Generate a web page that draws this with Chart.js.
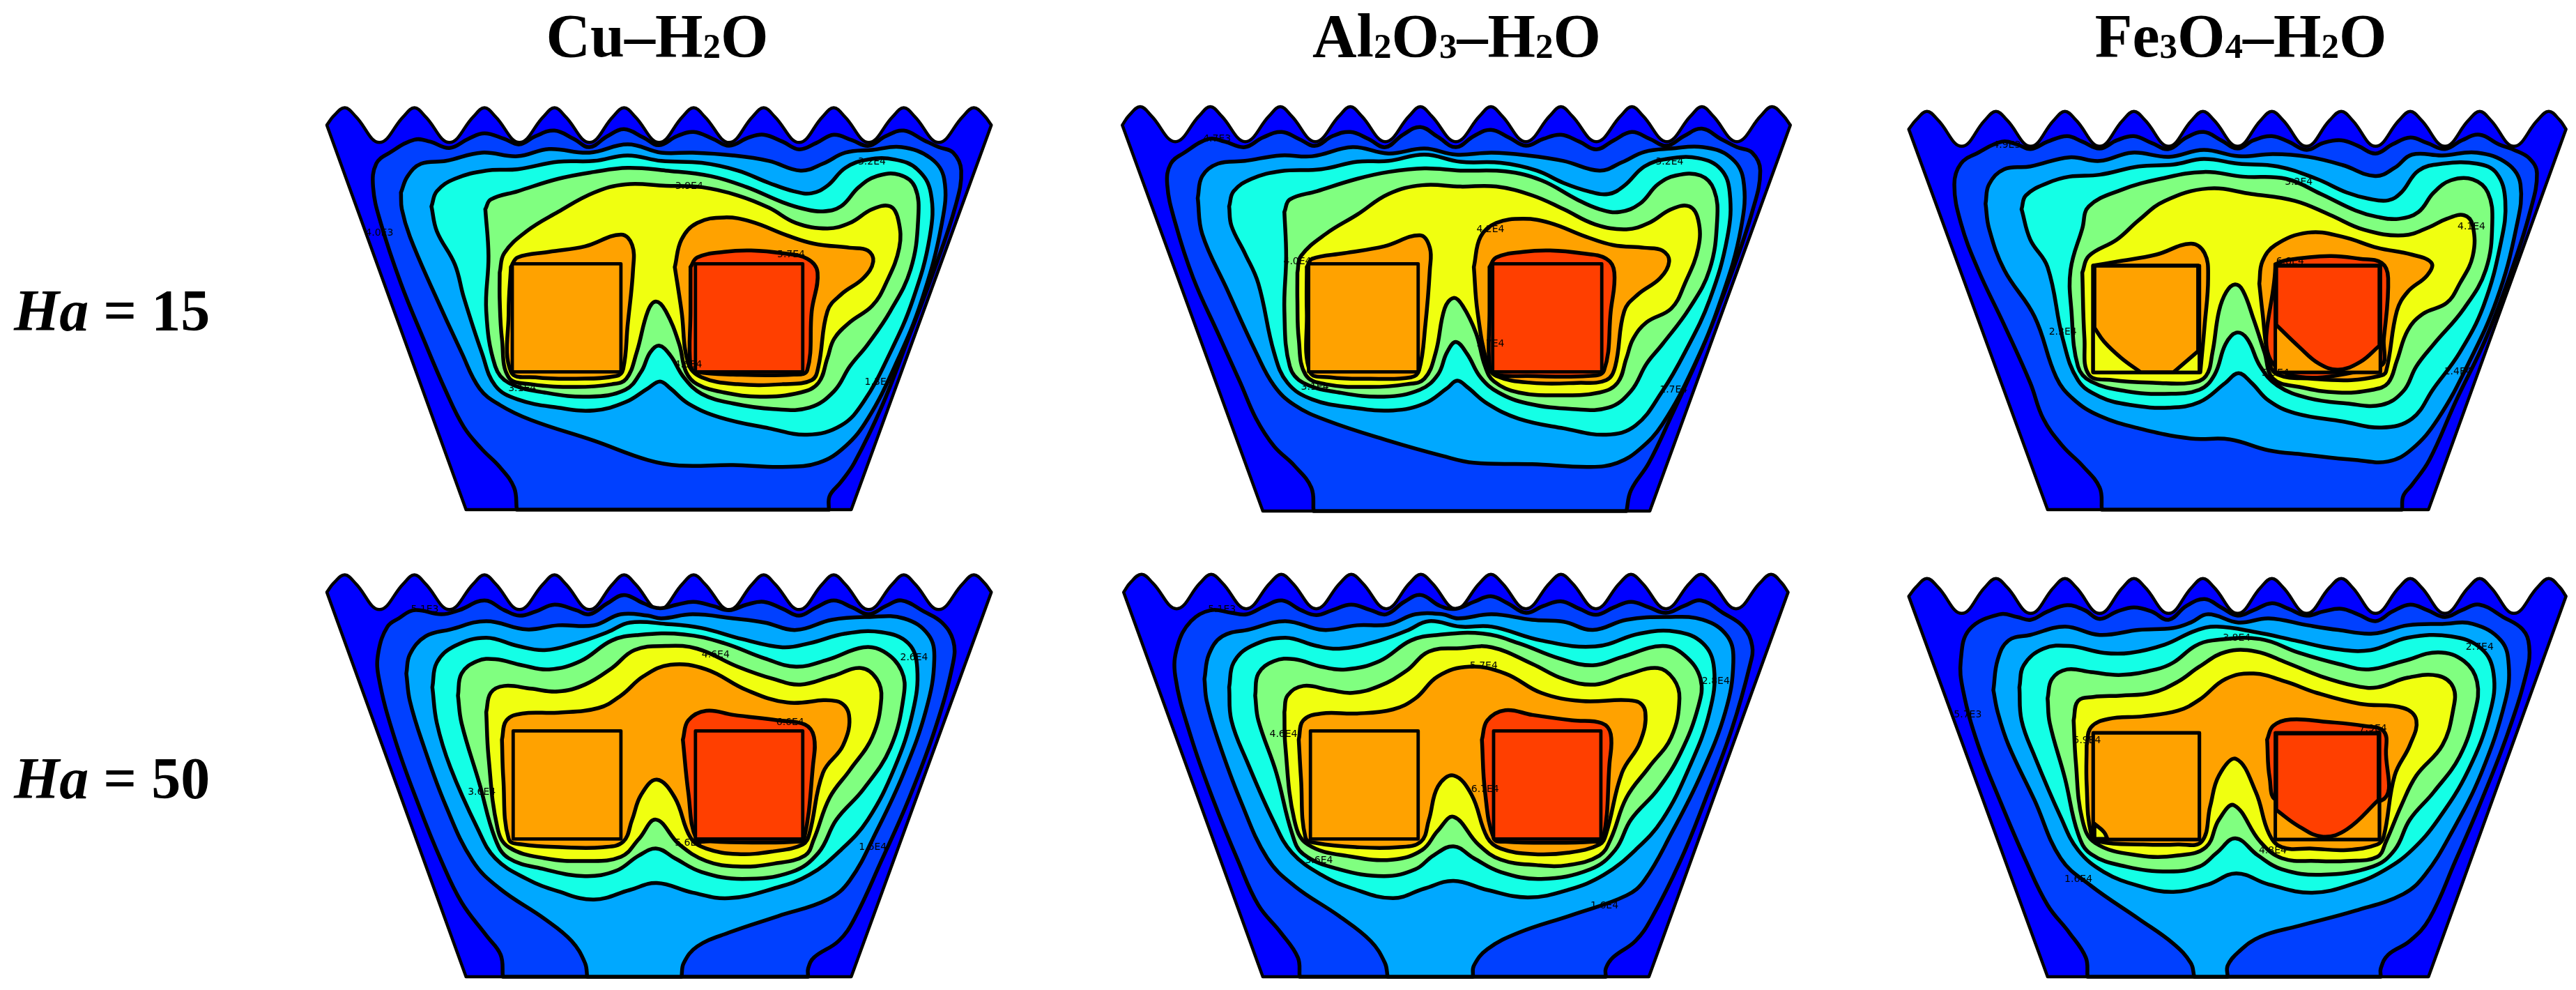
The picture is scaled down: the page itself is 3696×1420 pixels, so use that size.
<!DOCTYPE html>
<html><head><meta charset="utf-8">
<script src="https://cdn.jsdelivr.net/npm/chart.js@4"></script>
<style>
html,body{margin:0;padding:0;background:#fff;width:3696px;height:1420px;overflow:hidden}
canvas{position:absolute}
.t{position:absolute;font-family:"Liberation Serif",serif;font-weight:bold;color:#000;white-space:nowrap;line-height:1;transform-origin:0 0}
.t sub{font-size:58%;vertical-align:-0.04em;line-height:0}
</style></head><body>
<script>
// contour colours, lowest to highest level
const levelColors=['#0000ff','#0040ff','#00a8ff','#14ffe6','#80ff80','#f0ff10','#ffa200','#ff3f00'];
const columnTitles=['Cu–H<sub>2</sub>O','Al<sub>2</sub>O<sub>3</sub>–H<sub>2</sub>O','Fe<sub>3</sub>O<sub>4</sub>–H<sub>2</sub>O'];
const rowTitles=['<i>Ha</i> = 15','<i>Ha</i> = 50'];

// ---- Cu-H2O, Ha=15 ----
const a0=[[355,1520],[355,1520],[45,125],[45,125],[60,92],[85,62],[110,95],[162,188],[215,95],[240,62],[265,95],[318,188],[371,95],[396,62],[421,95],[474,188],[527,95],[552,62],[577,95],[630,188],[682,95],[707,62],[732,95],[785,188],[837,95],[862,62],[887,95],[941,188],[993,95],[1018,62],[1043,95],[1097,188],[1149,95],[1174,62],[1199,95],[1252,188],[1305,95],[1330,62],[1355,95],[1408,188],[1461,95],[1486,62],[1510,92],[1525,125],[1525,125],[1213,1520],[1213,1520]];
const a1=[[468,1520],[468,1520],[462,1440],[430,1365],[390,1300],[350,1220],[310,1090],[260,900],[210,700],[165,480],[148,350],[155,265],[185,225],[240,178],[275,185],[318,208],[360,175],[396,155],[440,175],[474,195],[510,165],[552,145],[595,175],[630,205],[670,165],[707,140],[750,170],[785,198],[825,165],[862,150],[905,175],[941,200],[985,170],[1018,160],[1060,185],[1097,213],[1135,190],[1174,160],[1215,180],[1252,200],[1290,165],[1330,145],[1375,180],[1408,205],[1440,225],[1458,290],[1445,420],[1400,640],[1340,900],[1280,1150],[1220,1350],[1190,1420],[1165,1470],[1163,1520],[1163,1520]];
const a2=[[210,370],[225,310],[255,265],[310,255],[390,225],[470,238],[540,212],[630,225],[715,195],[790,225],[860,225],[950,235],[1030,255],[1100,290],[1150,265],[1200,225],[1260,215],[1325,205],[1390,245],[1420,320],[1415,480],[1370,760],[1310,1000],[1250,1190],[1200,1290],[1140,1350],[1060,1365],[950,1358],[830,1360],[760,1340],[640,1270],[500,1195],[430,1140],[385,1080],[345,950],[280,720],[230,530],[212,430]];
const a3=[[278,420],[290,365],[330,320],[400,290],[470,285],[560,258],[640,255],[715,235],[790,255],[880,262],[960,290],[1030,335],[1085,365],[1125,372],[1160,345],[1200,280],[1250,250],[1310,250],[1360,285],[1390,370],[1388,530],[1350,760],[1300,950],[1240,1130],[1190,1215],[1115,1248],[1030,1225],[920,1185],[850,1135],[810,1080],[787,1055],[760,1080],[710,1130],[640,1160],[560,1150],[470,1120],[420,1070],[390,950],[350,750],[330,630],[290,510]];
const a4=[[398,430],[410,395],[470,365],[560,320],[640,295],[715,280],[800,290],[900,310],[980,350],[1060,405],[1110,430],[1150,438],[1190,420],[1230,350],[1270,310],[1320,305],[1355,350],[1362,470],[1345,650],[1300,800],[1250,920],[1210,1000],[1175,1090],[1120,1150],[1040,1155],[950,1135],[880,1100],[840,1040],[810,960],[785,925],[765,950],[745,1020],[710,1085],[630,1110],[530,1095],[450,1060],[420,1000],[400,800],[405,600]];
const a5=[[430,660],[440,590],[490,510],[560,440],[640,370],[710,340],[800,345],[880,350],[960,380],[1030,425],[1090,480],[1160,500],[1210,480],[1260,430],[1300,420],[1318,470],[1320,570],[1290,700],[1260,780],[1210,840],[1175,900],[1160,970],[1140,1060],[1100,1095],[1010,1110],[930,1095],[870,1065],[845,1020],[830,920],[800,800],[778,765],[760,800],[735,950],[712,1045],[680,1065],[600,1075],[500,1065],[450,1040],[435,900],[430,760]];
const a6L=[[455,640],[470,605],[540,585],[620,565],[700,522],[725,560],[727,650],[715,850],[705,1010],[690,1035],[600,1045],[510,1040],[455,1020],[450,800]];
const a6R=[[820,640],[835,540],[870,480],[930,460],[990,475],[1070,525],[1130,555],[1210,570],[1250,580],[1262,620],[1240,680],[1190,740],[1160,800],[1140,1000],[1125,1050],[1060,1065],[960,1065],[880,1040],[850,990],[835,800]];
const a7=[[855,640],[870,605],[930,585],[990,580],[1060,590],[1115,610],[1138,660],[1125,800],[1115,1015],[1085,1030],[950,1030],[870,1020],[855,1000],[855,800]];
const aRectL=[[458,628],[700,628],[700,1020],[458,1020]];
const aRectR=[[866,628],[1105,628],[1105,1020],[866,1020]];
const aLabels=[['4.0E3',162,517],['3.2E4',1259,260],['3.9E4',852,348],['5.7E4',1079,595],['4.6E4',850,995],['3.1E4',480,1080],['1.3E4',1274,1058]];

// ---- Al2O3-H2O, Ha=15 ----
const b0=[[360,1525],[360,1525],[47,125],[47,125],[62,90],[87,58],[112,92],[165,185],[218,92],[243,58],[268,92],[321,185],[374,92],[399,58],[424,92],[477,185],[530,92],[555,58],[580,92],[633,185],[686,92],[711,58],[736,92],[790,185],[843,92],[868,58],[893,92],[946,185],[999,92],[1024,58],[1049,92],[1103,185],[1157,92],[1182,58],[1207,92],[1260,185],[1313,92],[1338,58],[1363,92],[1416,185],[1469,92],[1494,58],[1519,90],[1535,125],[1535,125],[1222,1525],[1222,1525]];
const b1=[[473,1525],[473,1525],[468,1440],[430,1360],[385,1290],[345,1190],[310,1060],[260,880],[205,680],[165,480],[147,340],[155,265],[185,225],[240,175],[275,185],[320,205],[360,170],[402,150],[440,175],[477,200],[515,165],[555,150],[595,175],[633,205],[672,160],[711,132],[750,168],[790,205],[830,165],[868,142],[908,170],[946,200],[985,175],[1024,160],[1065,185],[1103,213],[1142,180],[1182,150],[1222,175],[1260,200],[1298,165],[1338,138],[1380,175],[1416,205],[1450,225],[1468,290],[1450,440],[1400,680],[1340,930],[1270,1180],[1220,1350],[1180,1450],[1170,1525],[1170,1525]];
const b2=[[215,390],[225,310],[260,265],[320,255],[400,235],[470,238],[560,205],[640,228],[720,210],[790,232],[870,225],[950,235],[1030,255],[1110,290],[1160,260],[1210,222],[1270,210],[1340,205],[1400,240],[1430,320],[1425,500],[1380,760],[1320,1000],[1250,1210],[1200,1300],[1150,1350],[1090,1365],[960,1355],[830,1350],[760,1325],[640,1270],[500,1195],[430,1140],[385,1070],[345,950],[280,720],[225,520]];
const b3=[[285,420],[295,365],[335,320],[400,292],[490,285],[570,258],[640,255],[720,232],[800,258],[890,262],[970,290],[1030,335],[1085,365],[1130,375],[1165,345],[1210,275],[1260,248],[1330,245],[1380,285],[1400,370],[1395,530],[1355,760],[1300,950],[1250,1090],[1190,1215],[1125,1248],[1030,1225],[930,1190],[860,1135],[815,1075],[793,1052],[770,1080],[720,1135],[650,1160],[560,1150],[470,1120],[415,1060],[385,950],[350,700],[320,590],[290,490]];
const b4=[[408,440],[420,395],[480,365],[570,320],[640,295],[720,282],[800,290],[900,293],[980,325],[1060,395],[1110,430],[1155,440],[1200,410],[1240,340],[1280,308],[1335,308],[1365,360],[1372,470],[1355,650],[1310,790],[1250,920],[1215,990],[1180,1090],[1130,1150],[1050,1155],[950,1135],[885,1095],[845,1040],[815,955],[790,912],[770,950],[750,1030],[710,1085],[630,1110],[530,1095],[450,1060],[420,1000],[408,800],[412,600]];
const b5=[[437,660],[445,600],[500,520],[570,450],[640,375],[715,343],[800,348],[880,348],[960,380],[1030,430],[1100,485],[1170,503],[1220,480],[1270,430],[1310,420],[1330,470],[1330,570],[1300,700],[1270,790],[1215,840],[1185,900],[1170,970],[1150,1060],[1110,1095],[1020,1105],[930,1095],[875,1055],[855,1000],[835,880],[805,780],[785,752],[765,790],[745,950],[720,1045],[680,1065],[600,1075],[500,1065],[455,1030],[440,900],[437,760]];
const b6L=[[458,640],[470,610],[540,590],[630,565],[710,525],[732,570],[732,650],[722,850],[708,1015],[690,1040],[600,1045],[510,1040],[465,1020],[458,800]];
const b6R=[[830,640],[845,530],[880,480],[940,465],[1000,480],[1080,530],[1140,560],[1210,570],[1250,580],[1265,620],[1245,680],[1195,740],[1165,800],[1145,1000],[1125,1050],[1060,1060],[960,1060],[880,1035],[860,990],[838,800]];
const b7=[[865,640],[880,605],[940,585],[1000,580],[1070,590],[1125,610],[1143,660],[1135,800],[1120,1015],[1085,1035],[950,1035],[880,1030],[865,1000],[865,800]];
const bRectL=[[462,628],[706,628],[706,1020],[462,1020]];
const bRectR=[[872,628],[1115,628],[1115,1020],[872,1020]];
const bLabels=[['4.7E3',258,175],['3.2E4',1266,258],['4.2E4',867,505],['4.0E4',437,620],['5.7E4',867,918],['3.1E4',476,1075],['1.7E4',1275,1085]];

// ---- Fe3O4-H2O, Ha=15 ----
const c0=[[350,1520],[350,1520],[30,140],[30,140],[47,106],[72,75],[98,108],[152,202],[205,108],[231,75],[257,108],[311,202],[364,108],[390,75],[416,108],[470,202],[523,108],[549,75],[575,108],[629,202],[682,108],[708,75],[734,108],[788,202],[841,108],[867,75],[893,108],[947,202],[1000,108],[1027,75],[1053,108],[1106,202],[1160,108],[1186,75],[1212,108],[1266,202],[1320,108],[1346,75],[1372,108],[1425,202],[1479,108],[1505,75],[1530,106],[1545,140],[1545,140],[1228,1520],[1228,1520]];
const c1=[[475,1520],[475,1520],[470,1440],[430,1360],[385,1290],[340,1190],[310,1060],[250,850],[190,650],[150,480],[135,340],[150,265],[190,225],[245,185],[280,195],[311,212],[350,185],[395,165],[430,185],[470,210],[510,180],[549,165],[590,190],[629,212],[670,170],[710,150],[750,180],[788,210],[825,180],[867,165],[905,185],[947,215],[985,190],[1027,180],[1065,200],[1106,228],[1145,195],[1186,170],[1225,190],[1266,212],[1305,180],[1346,160],[1390,195],[1425,215],[1460,245],[1478,300],[1462,440],[1420,650],[1360,900],[1290,1130],[1230,1340],[1190,1430],[1170,1470],[1167,1520],[1167,1520]];
const c2=[[207,410],[215,340],[250,285],[310,275],[400,242],[470,255],[545,225],[630,240],[710,215],[790,238],[870,230],[950,240],[1030,270],[1105,310],[1150,280],[1190,232],[1260,235],[1340,225],[1410,265],[1440,340],[1430,500],[1385,760],[1320,990],[1250,1190],[1190,1300],[1135,1345],[1060,1340],[940,1320],[860,1305],[770,1265],[680,1262],[560,1225],[470,1180],[410,1120],[370,1040],[320,820],[250,650],[215,500]];
const c3=[[290,430],[300,380],[350,335],[400,312],[470,305],[560,275],[640,268],[710,248],[790,265],[880,275],[970,320],[1040,370],[1090,392],[1135,398],[1165,370],[1205,290],[1260,265],[1340,265],[1385,300],[1405,400],[1395,550],[1355,780],[1300,950],[1240,1080],[1190,1190],[1120,1222],[1030,1200],[920,1170],[860,1125],[820,1060],[790,1025],[760,1060],[700,1130],[630,1150],[540,1140],[470,1110],[420,1050],[385,900],[350,640],[310,540]];
const c4=[[430,500],[445,420],[520,360],[610,320],[710,295],[800,312],[900,320],[980,375],[1060,435],[1110,458],[1160,465],[1205,440],[1240,370],[1280,325],[1330,322],[1365,370],[1375,480],[1360,650],[1310,790],[1240,920],[1200,1000],[1170,1090],[1120,1140],[1040,1135],[950,1115],[880,1070],[840,1000],[810,900],[785,878],[760,920],[735,1030],[700,1085],[620,1100],[530,1090],[450,1055],[420,1000],[405,800],[403,650]];
const c5=[[430,660],[445,600],[510,540],[560,470],[620,400],[720,355],[820,375],[920,400],[1000,450],[1080,505],[1170,525],[1230,495],[1270,465],[1310,452],[1330,490],[1330,600],[1300,700],[1270,770],[1215,810],[1180,870],[1155,980],[1135,1060],[1100,1085],[1020,1095],[930,1075],[870,1045],[850,950],[825,830],[800,725],[782,703],[762,730],[745,800],[730,950],[715,1035],[680,1060],[600,1060],[500,1050],[445,1030],[435,900]];
const c6L=[[455,635],[510,620],[600,595],[680,555],[712,590],[720,680],[712,850],[702,1022],[702,1022],[455,1022],[455,1022]];
const c6R=[[838,700],[845,620],[875,560],[950,515],[1030,530],[1110,570],[1190,595],[1235,625],[1225,670],[1180,730],[1155,800],[1130,1020],[1115,1035],[1050,1050],[960,1045],[880,1030],[860,980],[845,800]];
const c7=[[875,630],[900,615],[1000,600],[1070,610],[1120,625],[1135,680],[1125,900],[1115,1000],[875,1000]];
const cRectL=[[455,635],[700,635],[700,1022],[455,1022]];
const cRectR=[[875,635],[1117,635],[1117,1022],[875,1022]];
const cInnerL=[[458,635],[458,635],[458,860],[458,860],[480,910],[520,970],[565,1022],[565,1022],[640,1022],[640,1022],[697,945],[697,945],[697,635],[697,635]];
const cInnerR=[[877,635],[877,635],[877,850],[877,850],[930,930],[975,990],[1020,1012],[1070,985],[1115,925],[1115,925],[1115,635],[1115,635]];
const cLabels=[['4.9E3',256,197],['3.2E4',929,333],['4.1E4',1327,494],['6.8E4',909,620],['2.3E4',385,875],['5.5E4',875,1025],['1.4E4',1296,1020]];

// ---- Cu-H2O, Ha=50 ----
const d0=a0;
const d1=[[437,1520],[437,1520],[432,1440],[400,1370],[345,1250],[300,1100],[250,900],[195,650],[160,430],[160,340],[180,250],[205,220],[240,190],[300,205],[340,190],[396,155],[440,190],[474,210],[510,195],[552,170],[600,190],[630,205],[670,165],[707,135],[750,165],[785,183],[825,170],[862,160],[905,175],[941,190],[980,170],[1018,160],[1060,185],[1097,210],[1135,180],[1174,155],[1215,180],[1252,205],[1290,175],[1325,155],[1375,195],[1415,235],[1440,300],[1440,380],[1400,620],[1340,880],[1280,1100],[1220,1310],[1185,1390],[1130,1450],[1117,1490],[1117,1520],[1117,1520]];
const d2=[[222,420],[230,350],[265,285],[320,260],[400,230],[490,260],[560,245],[640,245],[700,205],[760,210],[790,220],[860,205],[950,220],[1020,235],[1090,262],[1170,225],[1250,215],[1330,220],[1385,280],[1398,370],[1380,550],[1330,780],[1270,990],[1210,1170],[1160,1240],[1050,1300],[940,1360],[870,1410],[840,1470],[835,1520],[835,1520],[625,1520],[625,1520],[620,1470],[590,1390],[530,1310],[430,1200],[370,1100],[310,900],[260,680],[230,520]];
const d3=[[280,470],[290,380],[330,320],[400,290],[470,320],[530,335],[600,310],[670,270],[720,235],[800,240],[880,255],[970,295],[1060,325],[1120,310],[1200,275],[1280,270],[1340,310],[1360,400],[1350,560],[1310,760],[1250,950],[1190,1060],[1120,1150],[1040,1200],[940,1235],[860,1215],[780,1180],[720,1205],[640,1240],[560,1210],[490,1165],[420,1090],[380,980],[320,760],[290,600]];
const d4=[[337,500],[345,420],[380,375],[420,368],[480,390],[540,405],[610,375],[680,300],[740,280],[840,278],[930,310],[1020,365],[1090,395],[1160,370],[1240,325],[1285,340],[1325,410],[1330,500],[1300,690],[1240,840],[1180,950],[1140,1070],[1080,1140],[970,1165],[880,1140],[820,1090],[780,1055],[740,1080],[690,1135],[620,1155],[530,1130],[450,1090],[420,1020],[385,820],[345,600]];
const d5=[[400,560],[410,490],[440,465],[500,475],[560,485],[620,460],[680,400],[730,335],[800,320],[870,330],[960,395],[1040,440],[1100,460],[1170,430],[1235,400],[1270,440],[1280,510],[1260,650],[1210,770],[1165,870],[1130,1020],[1110,1080],[1040,1110],[960,1120],[890,1100],[830,1040],[778,950],[740,1020],[700,1085],[620,1100],[530,1090],[450,1050],[425,980],[405,720]];
const d6=[[435,660],[445,590],[480,565],[560,562],[650,545],[700,500],[750,430],[810,388],[890,405],[980,480],[1070,525],[1180,520],[1208,570],[1195,680],[1150,780],[1120,1000],[1105,1040],[1040,1065],[960,1075],[890,1055],[855,1015],[820,870],[780,805],[745,860],[725,950],[705,1030],[660,1050],[570,1050],[480,1040],[450,1020],[438,800]];
const d7=[[838,660],[850,590],[890,555],[950,570],[1050,590],[1110,605],[1130,650],[1128,750],[1108,1020],[1090,1030],[1000,1033],[900,1029],[868,1020],[850,850]];
const dRectL=[[460,628],[700,628],[700,1020],[460,1020]];
const dRectR=[[866,628],[1105,628],[1105,1020],[866,1020]];
const dLabels=[['5.1E3',263,187],['4.6E4',911,352],['2.6E4',1353,362],['6.6E4',1077,597],['3.6E4',390,850],['1.6E4',1261,1050],['5.6E4',851,1035]];

// ---- Al2O3-H2O, Ha=50 ----
const e0=[[360,1520],[360,1520],[50,125],[50,125],[65,90],[90,60],[115,92],[168,185],[220,92],[245,60],[270,92],[323,185],[376,92],[401,60],[426,92],[479,185],[532,92],[557,60],[582,92],[635,185],[687,92],[712,60],[737,92],[790,185],[843,92],[868,60],[893,92],[946,185],[999,92],[1024,60],[1049,92],[1102,185],[1155,92],[1180,60],[1205,92],[1258,185],[1311,92],[1336,60],[1361,92],[1414,185],[1467,92],[1492,60],[1515,90],[1530,125],[1530,125],[1220,1520],[1220,1520]];
const e1=[[442,1520],[442,1520],[438,1450],[400,1360],[350,1260],[305,1100],[250,880],[200,650],[165,430],[170,320],[200,230],[245,190],[290,200],[325,205],[365,175],[403,155],[445,190],[479,208],[515,190],[557,170],[600,190],[635,205],[675,160],[712,135],[755,175],[790,185],[830,160],[868,140],[905,165],[946,200],[985,175],[1024,158],[1065,185],[1102,207],[1142,180],[1180,160],[1220,180],[1258,200],[1298,175],[1336,155],[1385,200],[1430,250],[1450,320],[1445,390],[1405,620],[1345,880],[1290,1100],[1225,1310],[1190,1390],[1140,1450],[1124,1490],[1124,1520],[1124,1520]];
const e2=[[230,440],[240,350],[270,285],[330,260],[410,230],[495,262],[570,245],[640,242],[700,205],[760,205],[795,220],[870,205],[960,225],[1030,232],[1095,262],[1170,225],[1260,215],[1340,225],[1395,285],[1408,380],[1390,560],[1335,790],[1270,1000],[1210,1170],[1170,1225],[1050,1295],[930,1360],[860,1420],[830,1480],[828,1520],[828,1520],[638,1520],[638,1520],[632,1470],[600,1390],[530,1300],[430,1190],[370,1090],[310,880],[260,660],[235,520]];
const e3=[[285,470],[295,380],[335,320],[410,290],[480,320],[530,330],[610,305],[680,265],[730,230],[800,250],[870,250],[980,300],[1100,322],[1200,275],[1280,268],[1340,310],[1365,400],[1355,560],[1310,760],[1250,950],[1190,1060],[1120,1150],[1040,1205],[950,1232],[860,1205],[785,1172],[720,1200],[650,1235],[560,1200],[490,1150],[425,1070],[385,960],[325,740],[290,590]];
const e4=[[343,500],[350,420],[385,375],[430,368],[490,395],[545,405],[620,375],[690,300],[750,280],[850,275],[930,310],[1020,365],[1095,390],[1160,360],[1250,320],[1300,355],[1335,440],[1330,540],[1290,710],[1240,840],[1180,950],[1145,1060],[1090,1130],[980,1165],[890,1140],[830,1090],[785,1047],[740,1080],[700,1130],[630,1155],[530,1130],[450,1075],[425,1000],[390,780],[350,590]];
const e5=[[408,560],[415,500],[450,465],[510,480],[560,490],[620,465],[680,410],[730,340],[800,328],[870,325],[960,385],[1030,440],[1100,460],[1170,425],[1240,400],[1275,440],[1288,510],[1270,650],[1220,760],[1170,870],[1135,1020],[1110,1080],[1040,1115],[970,1115],[890,1095],[840,1040],[785,940],[750,990],[715,1060],[650,1095],[560,1085],[460,1040],[430,950],[410,680]];
const e6=[[440,660],[450,590],[490,565],[570,565],[650,550],[700,510],[750,430],[820,395],[900,420],[980,490],[1070,520],[1190,520],[1212,560],[1200,670],[1160,780],[1125,1000],[1110,1040],[1040,1070],[960,1075],[890,1055],[860,1015],[825,860],[785,790],[750,830],[730,950],[712,1030],[660,1050],[570,1050],[480,1035],[455,1015],[445,800]];
const e7=[[848,660],[860,590],[900,553],[960,570],[1050,590],[1115,600],[1135,640],[1132,750],[1118,1020],[1095,1030],[1000,1034],[900,1030],[875,1020],[855,850]];
const eRectL=[[466,628],[706,628],[706,1020],[466,1020]];
const eRectR=[[874,628],[1113,628],[1113,1020],[874,1020]];
const eLabels=[['5.1E3',269,187],['5.7E4',852,393],['2.8E4',1369,448],['4.6E4',406,640],['6.7E4',855,840],['3.6E4',485,1098],['1.6E4',1121,1262]];

// ---- Fe3O4-H2O, Ha=50 ----
const f0=c0;
const f1=[[442,1520],[442,1520],[438,1450],[400,1360],[350,1260],[300,1100],[240,880],[190,680],[155,480],[150,370],[170,260],[240,205],[280,215],[311,225],[350,195],[395,172],[435,190],[470,222],[510,195],[549,180],[590,195],[629,225],[670,175],[712,150],[750,180],[788,210],[825,190],[867,165],[905,185],[947,210],[985,195],[1027,185],[1065,205],[1106,230],[1145,195],[1186,170],[1225,190],[1266,215],[1305,190],[1345,170],[1400,215],[1445,260],[1460,320],[1455,410],[1410,640],[1345,900],[1290,1100],[1230,1310],[1185,1390],[1135,1440],[1118,1490],[1118,1520],[1118,1520]];
const f2=[[225,480],[235,370],[260,300],[310,280],[390,250],[470,280],[560,262],[640,255],[680,235],[720,205],[790,235],[860,220],[950,245],[1020,262],[1100,275],[1180,245],[1260,240],[1330,240],[1395,300],[1413,390],[1405,520],[1350,780],[1280,1000],[1220,1150],[1170,1220],[1060,1280],[930,1335],[840,1375],[790,1430],[765,1480],[765,1520],[765,1520],[688,1520],[688,1520],[680,1470],[640,1400],[560,1310],[450,1190],[380,1090],[320,880],[260,680],[235,560]];
const f3=[[285,470],[295,390],[340,330],[400,320],[480,345],[540,345],[620,315],[690,265],[740,250],[830,270],[920,300],[1010,330],[1095,335],[1180,290],[1280,285],[1350,330],[1378,420],[1370,560],[1320,770],[1250,950],[1190,1060],[1130,1130],[1060,1180],[960,1215],[860,1185],[785,1145],[720,1185],[640,1212],[560,1190],[480,1140],[420,1060],[380,940],[320,720],[290,590]];
const f4=[[350,510],[360,440],[395,405],[450,415],[520,425],[600,405],[640,380],[690,320],[730,300],[840,295],[930,345],[1020,385],[1090,405],[1170,375],[1250,343],[1310,375],[1340,450],[1335,560],[1300,720],[1240,850],[1185,950],[1150,1060],[1100,1120],[980,1150],[890,1130],[835,1080],[783,1018],[740,1070],[700,1120],[630,1138],[530,1120],[450,1075],[420,1000],[390,800],[355,600]];
const f5=[[410,590],[420,520],[455,505],[520,500],[590,490],[650,450],[700,395],[760,342],[830,340],[900,380],[980,430],[1060,465],[1110,470],[1180,435],[1250,428],[1285,470],[1285,550],[1260,680],[1200,790],[1165,900],[1130,1030],[1110,1085],[1040,1100],[970,1100],[890,1090],[840,1030],[780,898],[745,950],[715,1050],[650,1080],[560,1080],[460,1035],[430,950],[415,740]];
const f6=[[440,680],[450,615],[490,585],[570,575],[650,555],[700,515],[760,440],[825,420],[900,450],[970,490],[1070,530],[1170,545],[1200,590],[1185,680],[1150,790],[1125,1010],[1110,1040],[1040,1060],[960,1055],[890,1050],[860,1000],[830,850],[785,730],[745,790],[725,900],[705,1030],[650,1040],[570,1040],[470,1030],[450,1000],[440,820]];
const f7=[[856,660],[870,610],[910,587],[990,595],[1080,610],[1125,630],[1130,700],[1120,880],[880,880],[862,800]];
const fRectL=[[455,635],[700,635],[700,1022],[455,1022]];
const fRectR=[[875,635],[1115,635],[1115,1022],[875,1022]];
const fInnerL=[[458,965],[458,965],[480,995],[488,1020],[488,1020],[458,1020],[458,1020]];
const fInnerR=[[877,915],[877,915],[930,975],[985,1012],[1040,985],[1113,878],[1113,878],[1113,637],[1113,637],[877,637],[877,637]];
const fLabels=[['5.7E3',166,570],['3.8E4',786,292],['2.7E4',1346,325],['5.9E4',441,663],['7.9E4',1100,620],['4.8E4',869,1063],['1.6E4',421,1168]];

// Each panel: canvas box [left, top, width, height]; layers [points, colour index, kind]
const H=620, W1=1010, W3=976;
const panels=[
 {box:[440,130,W1,H],labels:aLabels,layers:[[a0,0,'o'],[a1,1],[a2,2],[a3,3],[a4,4],[a5,5],[a6L,6],[a6R,6],[a7,7],[aRectL,6,'r'],[aRectR,7,'r']]},
 {box:[1580,130,W1,H],labels:bLabels,layers:[[b0,0,'o'],[b1,1],[b2,2],[b3,3],[b4,4],[b5,5],[b6L,6],[b6R,6],[b7,7],[bRectL,6,'r'],[bRectR,7,'r']]},
 {box:[2720,130,W3,H],labels:cLabels,layers:[[c0,0,'o'],[c1,1],[c2,2],[c3,3],[c4,4],[c5,5],[c6L,6],[c6R,6],[c7,7],[cRectL,5,'r'],[cInnerL,6,'i'],[cRectR,6,'r'],[cInnerR,7,'i'],[cRectL,-1,'r'],[cRectR,-1,'r']]},
 {box:[440,800,W1,H],labels:dLabels,layers:[[d0,0,'o'],[d1,1],[d2,2],[d3,3],[d4,4],[d5,5],[d6,6],[d7,7],[dRectL,6,'r'],[dRectR,7,'r']]},
 {box:[1580,800,W1,H],labels:eLabels,layers:[[e0,0,'o'],[e1,1],[e2,2],[e3,3],[e4,4],[e5,5],[e6,6],[e7,7],[eRectL,6,'r'],[eRectR,7,'r']]},
 {box:[2720,800,W3,H],labels:fLabels,layers:[[f0,0,'o'],[f1,1],[f2,2],[f3,3],[f4,4],[f5,5],[f6,6],[f7,7],[fRectL,6,'r'],[fInnerL,5,'i'],[fRectR,6,'r'],[fInnerR,7,'i'],[fRectL,-1,'r'],[fRectR,-1,'r']]}
];

const labelPlugin={id:'contourLabels',afterDatasetsDraw(chart,args,opts){
  const c=chart.ctx;c.save();c.font='14px "DejaVu Sans"';c.fillStyle='#000';c.textAlign='center';c.textBaseline='middle';
  for(const [t,x,y] of opts.items){c.fillText(t,chart.scales.x.getPixelForValue(x),chart.scales.y.getPixelForValue(y));}
  c.restore();}};

panels.forEach(p=>{
  const cv=document.createElement('canvas');
  const [l,t,w,h]=p.box;
  cv.width=w;cv.height=h;cv.style.left=l+'px';cv.style.top=t+'px';cv.style.width=w+'px';cv.style.height=h+'px';
  document.body.appendChild(cv);
  const n=p.layers.length;
  const datasets=p.layers.map(([pts,ci,kind],i)=>({
    data:pts.concat([pts[0]]),
    showLine:true,pointRadius:0,pointHoverRadius:0,
    tension:kind==='r'?0:0.4,
    fill:ci<0?false:'shape',
    backgroundColor:ci<0?'transparent':levelColors[ci],
    borderColor:'#000',borderWidth:kind==='o'?4.5:kind==='r'?4.8:5.5,
    borderJoinStyle:'round',borderCapStyle:'round',
    order:n-i
  }));
  new Chart(cv,{type:'scatter',data:{datasets},plugins:[labelPlugin],options:{
    responsive:false,animation:false,devicePixelRatio:1,
    layout:{padding:0},events:[],
    scales:{x:{type:'linear',display:false,min:0,max:1568},y:{type:'linear',display:false,reverse:true,min:0,max:1568}},
    plugins:{legend:{display:false},tooltip:{enabled:false},contourLabels:{items:p.labels}}
  }});
});

function addText(html,x,y,size,cx){const d=document.createElement('div');d.className='t';d.innerHTML=html;d.style.fontSize=size+'px';d.style.left=x+'px';d.style.top=y+'px';d.style.transform=cx?'translateX(-50%)':'';document.body.appendChild(d);}
const titleCentres=[943,2090,3215];
columnTitles.forEach((s,i)=>addText(s,titleCentres[i],8,88,true));
[404,1075].forEach((y,i)=>addText(rowTitles[i],20,y,84,false));
</script>
</body></html>
